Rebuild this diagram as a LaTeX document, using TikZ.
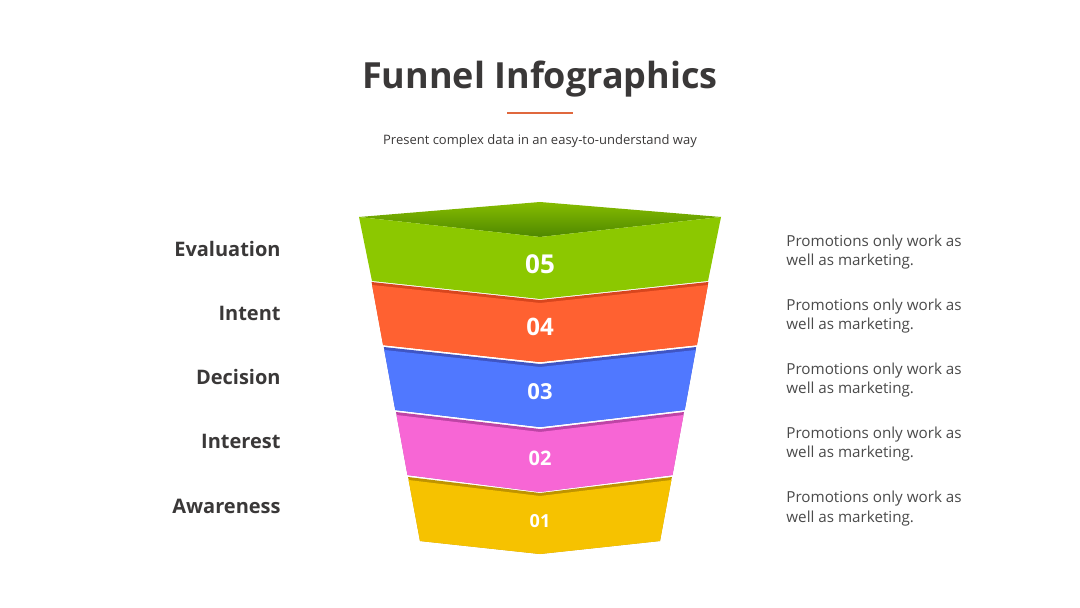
\documentclass[tikz,border=0pt]{standalone}
\usepackage{fontspec}
\setmainfont{Open Sans}
\usepackage{xcolor}
\usepackage{tikz}

\definecolor{ink}{HTML}{3A3838}
\definecolor{notegray}{HTML}{4A4A4A}
\definecolor{rule}{HTML}{E0683E}
\definecolor{evalgreen}{HTML}{8CC800}
\definecolor{evallight}{HTML}{86BC00}
\definecolor{evaldark}{HTML}{4E8800}
\definecolor{intorange}{HTML}{FF6131}
\definecolor{intband}{HTML}{D8461E}
\definecolor{decblue}{HTML}{5078FF}
\definecolor{decband}{HTML}{3F55C4}
\definecolor{intpink}{HTML}{F766D5}
\definecolor{intpband}{HTML}{BE44A6}
\definecolor{awyellow}{HTML}{F6C200}
\definecolor{awband}{HTML}{BF9400}

\begin{document}
\begin{tikzpicture}[
  x=0.5pt, y=-0.5pt,
  title/.style={font=\bfseries\fontsize{18}{21}\selectfont, text=ink, inner sep=0pt},
  subtitle/.style={font=\fontsize{6.5}{8}\selectfont, text=ink, inner sep=0pt},
  stage/.style={font=\bfseries\fontsize{10}{12}\selectfont, text=ink, anchor=base east, inner sep=0pt},
  note/.style={font=\fontsize{7.6}{9.5}\selectfont, text=notegray, align=left, anchor=base west, inner sep=0pt},
  num/.style={font=\bfseries\fontsize{#1}{#1}\selectfont, text=white, inner sep=0pt}
]
\useasboundingbox (0,0) rectangle (1080,608);

% heading
\node[title] (heading) at (540,79) {Funnel Infographics};
\draw[rule, line width=1.25pt] (507,113) -- (573,113);
\node[subtitle] (sub) at (540,141) {Present complex data in an easy-to-understand way};

% funnel, top to bottom
\shade[top color=evallight, bottom color=evaldark] (359,217) -- (540,202) -- (721,217) -- (540,237) -- cycle;
\fill[evalgreen] (359,217) -- (540,237) -- (721,217) -- (708,281) -- (540,299) -- (372,281) -- cycle;

\fill[intband] (371.6,282) -- (540,300) -- (708.4,282) -- (696.9,345) -- (540,362) -- (383.1,345) -- cycle;
\fill[intorange] (372.1,285) -- (540,303) -- (707.9,285) -- (696.9,345) -- (540,362) -- (383.1,345) -- cycle;

\fill[decband] (383.8,347) -- (540,364) -- (696.2,347) -- (684.7,410) -- (540,427) -- (395.3,410) -- cycle;
\fill[decblue] (384.3,350) -- (540,367) -- (695.7,350) -- (684.7,410) -- (540,427) -- (395.3,410) -- cycle;

\fill[intpband] (396,412) -- (540,429) -- (684,412) -- (672.5,475) -- (540,492) -- (407.5,475) -- cycle;
\fill[intpink] (396.5,415) -- (540,432) -- (683.5,415) -- (672.5,475) -- (540,492) -- (407.5,475) -- cycle;

\fill[awband] (408.1,477) -- (540,493) -- (671.9,477) -- (660,541) -- (540,554) -- (420,541) -- cycle;
\fill[awyellow] (408.6,480) -- (540,496) -- (671.4,480) -- (660,541) -- (540,554) -- (420,541) -- cycle;

% step numbers
\node[num=13] (n5) at (540,264) {05};
\node[num=12] (n4) at (540,327) {04};
\node[num=11] (n3) at (540,392) {03};
\node[num=10] (n2) at (540,458) {02};
\node[num=9] (n1) at (540,521) {01};

% stage names
\node[stage] (evaluation) at (281,257) {Evaluation};
\node[stage] (intent) at (281,321) {Intent};
\node[stage] (decision) at (281,385) {Decision};
\node[stage] (interest) at (281,449) {Interest};
\node[stage] (awareness) at (281,513) {Awareness};

% notes
\node[note] (note5) at (786,266) {Promotions only work as\\well as marketing.};
\node[note] (note4) at (786,330) {Promotions only work as\\well as marketing.};
\node[note] (note3) at (786,394) {Promotions only work as\\well as marketing.};
\node[note] (note2) at (786,458) {Promotions only work as\\well as marketing.};
\node[note] (note1) at (786,522) {Promotions only work as\\well as marketing.};
\end{tikzpicture}
\end{document}
